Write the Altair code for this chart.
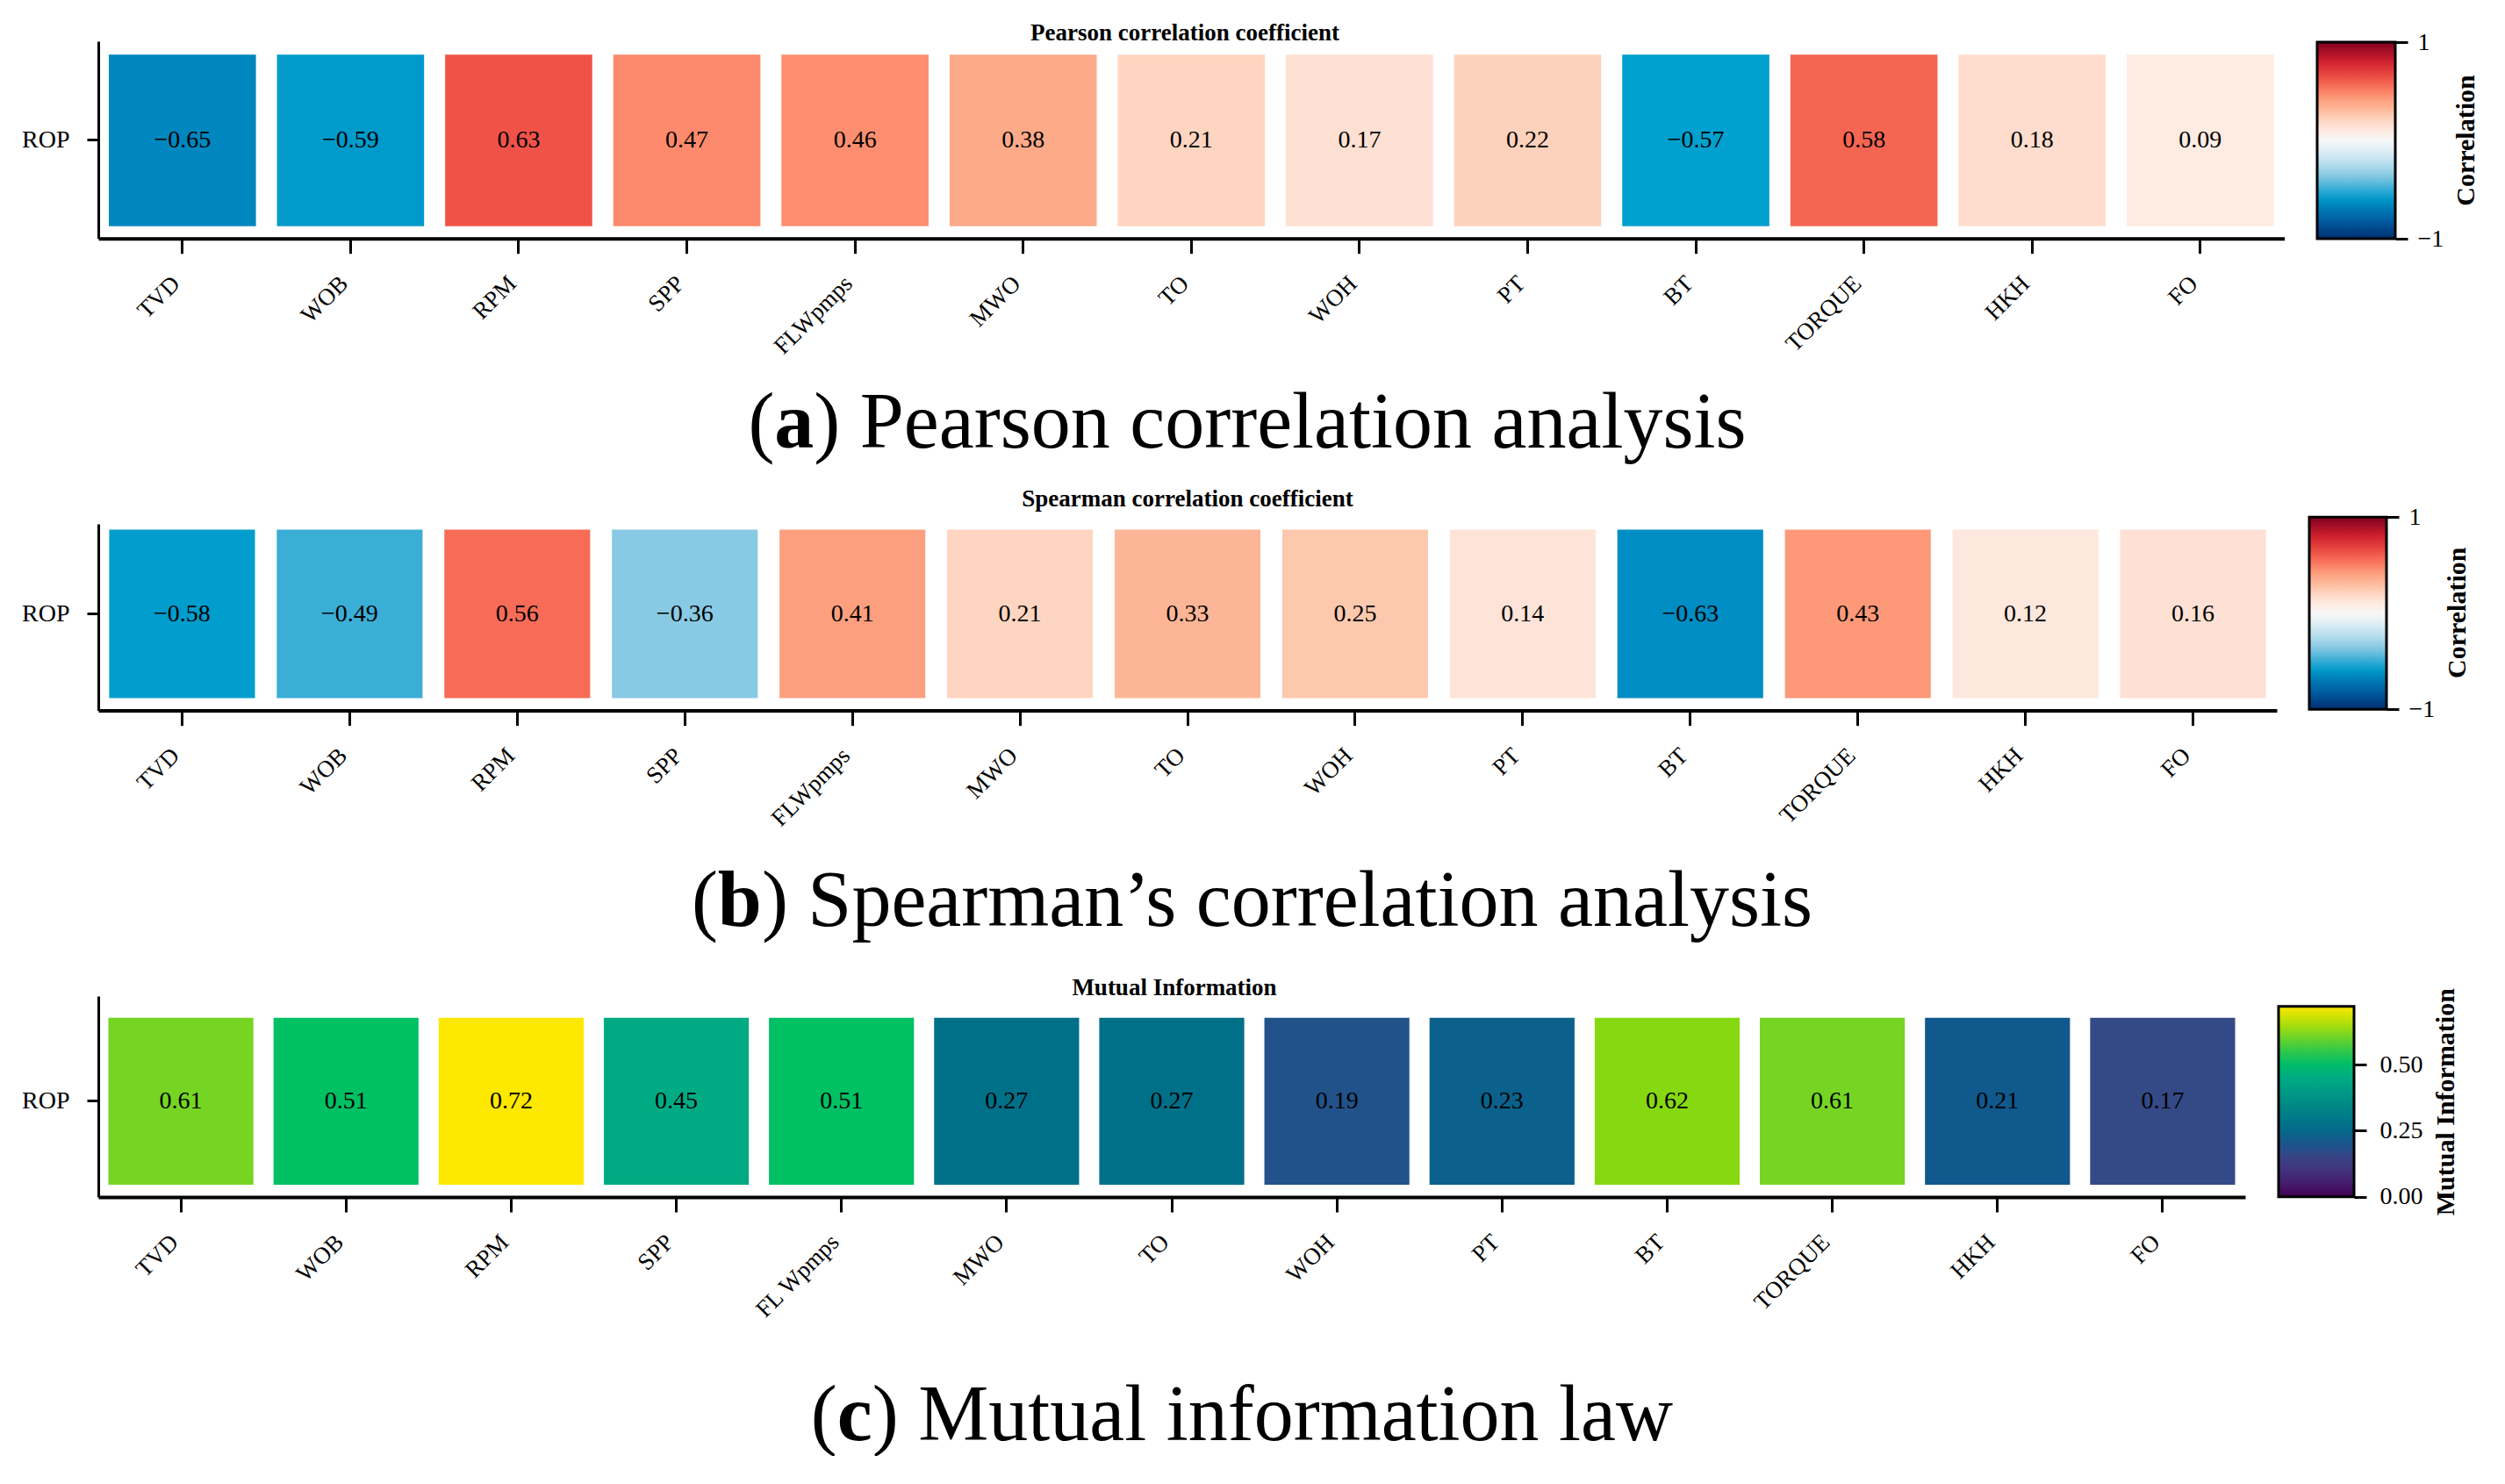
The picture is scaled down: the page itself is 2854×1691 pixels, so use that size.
import altair as alt
import pandas as pd

# ---------------- data ----------------
features = ["TVD", "WOB", "RPM", "SPP", "FLWpmps", "MWO", "TO", "WOH", "PT", "BT", "TORQUE", "HKH", "FO"]
target = "ROP"
pearson = [-0.65, -0.59, 0.63, 0.47, 0.46, 0.38, 0.21, 0.17, 0.22, -0.57, 0.58, 0.18, 0.09]
spearman = [-0.58, -0.49, 0.56, -0.36, 0.41, 0.21, 0.33, 0.25, 0.14, -0.63, 0.43, 0.12, 0.16]
mutual_info = [0.61, 0.51, 0.72, 0.45, 0.51, 0.27, 0.27, 0.19, 0.23, 0.62, 0.61, 0.21, 0.17]

panel_titles = ["Pearson correlation coefficient", "Spearman correlation coefficient", "Mutual Information"]
cbar_titles = ["Correlation", "Correlation", "Mutual Information"]
caption_letters = ["a", "b", "c"]
caption_texts = [") Pearson correlation analysis", ") Spearman\u2019s correlation analysis", ") Mutual information law"]
corr_domain = [-1, 1]
corr_ticks = [-1, 0, 1]
mi_domain = [0, 0.72]
mi_ticks = [0.0, 0.25, 0.5]

# ---------------- style ----------------
FONT = "Liberation Serif"
CORR_STOPS = [-1, -0.85, -0.65, -0.57, -0.49, -0.36, -0.15, 0, 0.09, 0.17, 0.25, 0.38, 0.47, 0.58, 0.63, 0.8, 1]
CORR_COLORS = ["#00306f", "#00549b", "#0087bf", "#00a0cf", "#3baed6", "#88cae3", "#d4ebf4", "#f7f7f7",
               "#feebe2", "#fee0d2", "#fdc9ae", "#fcaa88", "#fd8a6c", "#f46552", "#ef5348", "#d0202e", "#800020"]
MI_STOPS = [0, 0.08, 0.17, 0.21, 0.27, 0.45, 0.51, 0.61, 0.62, 0.72]
MI_COLORS = ["#440154", "#462c7b", "#344a87", "#10598d", "#007089", "#00ab84", "#00c064", "#76d523", "#86d910", "#fde800"]

# Times / Liberation Serif advance widths (per 1000 em) for caption layout
TIMES = {"(": 333, ")": 333, " ": 250, "\u2019": 333, "P": 556, "S": 556, "M": 889, "a": 444, "c": 444,
         "e": 444, "f": 333, "i": 278, "l": 278, "m": 778, "n": 500, "o": 500, "p": 500, "r": 333,
         "s": 389, "t": 278, "u": 500, "w": 722, "y": 500}
TIMES_BOLD = {"a": 500, "b": 556, "c": 444}

# ---------------- layout (page pixels) ----------------
PLOT_LEFT = 112
SPACING = 325
TOP_A = 47.0
BOTTOMS = [271.7, 809.3, 1363.3]
TOPS = [TOP_A, BOTTOMS[0] + SPACING, BOTTOMS[1] + SPACING]
layout_abs = [
    dict(right=2602.6, cells=(62.3, 257.7), pi=0.125, title=(1350, 46), leg=(2640, 48), glen=224, gth=89,
         lpad=11, ctitle=(2810, 160), cap=(1421, 510), xlabel_expr=None),
    dict(right=2594, cells=(603.3, 795.3), pi=0.13, title=(1353, 577), leg=(2631, 589), glen=219, gth=88,
         lpad=11, ctitle=(2800, 698), cap=(1429, 1055), xlabel_expr=None),
    dict(right=2558, cells=(1159, 1349.3), pi=0.122, title=(1338, 1133), leg=(2596, 1146), glen=217, gth=86,
         lpad=15, ctitle=(2787, 1255), cap=(1415, 1640),
         xlabel_expr="datum.label == 'FLWpmps' ? 'FL Wpmps' : datum.label"),
]


def rel_geom(i):
    a = layout_abs[i]
    top = TOPS[i]
    H = BOTTOMS[i] - top
    bw = a["cells"][1] - a["cells"][0]
    L = H - bw
    W = a["right"] - PLOT_LEFT
    legx = a["leg"][0] - PLOT_LEFT
    legy = a["leg"][1] - top
    return dict(
        W=W, H=H, pi=a["pi"], po=L / (2 * bw), align=(a["cells"][0] - top) / L,
        tx=a["title"][0] - PLOT_LEFT, ty=a["title"][1] - top,
        legx=legx, legy=legy, glen=a["glen"], gth=a["gth"], lpad=a["lpad"],
        cb_offset=legx + a["gth"] - W, cb_range=[legy + a["glen"], legy],
        ctx=a["ctitle"][0] - PLOT_LEFT, cty=a["ctitle"][1] - top,
        capx=a["cap"][0] - PLOT_LEFT, capy=a["cap"][1] - top, xlabel_expr=a["xlabel_expr"],
    )


ONE = pd.DataFrame({"k": [0]})


def caption_layers(letter, rest, cx, cy, F=90):
    w_open = TIMES["("] * F / 1000
    w_let = TIMES_BOLD[letter] * F / 1000
    w_rest = sum(TIMES[c] for c in rest) * F / 1000
    left = cx - (w_open + w_let + w_rest) / 2
    common = dict(font=FONT, fontSize=F, align="left", baseline="alphabetic", color="black")
    t1 = alt.Chart(ONE).mark_text(**common).encode(x=alt.value(left), y=alt.value(cy), text=alt.value("("))
    t2 = alt.Chart(ONE).mark_text(fontWeight="bold", **common).encode(
        x=alt.value(left + w_open), y=alt.value(cy), text=alt.value(letter))
    t3 = alt.Chart(ONE).mark_text(**common).encode(
        x=alt.value(left + w_open + w_let), y=alt.value(cy), text=alt.value(rest))
    return [t1, t2, t3]


def panel(values, title, cbar_title, letter, rest, scale, cdomain, ticks, fmt, g):
    df = pd.DataFrame({"feature": features, "target": [target] * len(features), "value": values})
    base = alt.Chart(df)
    xaxis_kw = dict(title=None, labelAngle=315, labelAlign="right", labelBaseline="middle",
                    labelFont=FONT, labelFontSize=27, labelColor="black", labelPadding=30,
                    labelOffset=-7, labelOverlap=False, labelLimit=400, tickSize=17, tickWidth=3,
                    tickColor="black", domainColor="black", domainWidth=4, grid=False)
    if g["xlabel_expr"]:
        xaxis_kw["labelExpr"] = g["xlabel_expr"]
    x = alt.X("feature:N", sort=features,
              scale=alt.Scale(paddingInner=g["pi"], paddingOuter=g["pi"] / 2),
              axis=alt.Axis(**xaxis_kw))
    y = alt.Y("target:N",
              scale=alt.Scale(paddingInner=0, paddingOuter=g["po"], align=g["align"]),
              axis=alt.Axis(title=None, labelAngle=0, labelFont=FONT, labelFontSize=28,
                            labelColor="black", labelPadding=20, tickSize=13, tickWidth=3,
                            tickColor="black", domainColor="black", domainWidth=3, grid=False))
    rect = base.mark_rect().encode(
        x=x, y=y,
        color=alt.Color("value:Q", scale=scale,
                        legend=alt.Legend(title=None, orient="none", legendX=g["legx"], legendY=g["legy"],
                                          direction="vertical", gradientLength=g["glen"],
                                          gradientThickness=g["gth"], values=ticks, labelOpacity=0,
                                          labelFontSize=1, gradientStrokeColor="black",
                                          gradientStrokeWidth=3)))
    text = base.mark_text(font=FONT, fontSize=28, color="black", baseline="middle").encode(
        x=x, y=y, text=alt.Text("value:Q", format=".2f"))
    ptitle = alt.Chart(ONE).mark_text(font=FONT, fontSize=27, fontWeight="bold", align="center",
                                      baseline="alphabetic", color="black").encode(
        x=alt.value(g["tx"]), y=alt.value(g["ty"]), text=alt.value(title))
    ctitle = alt.Chart(ONE).mark_text(font=FONT, fontSize=30, fontWeight="bold", angle=270,
                                      align="center", baseline="middle", color="black").encode(
        x=alt.value(g["ctx"]), y=alt.value(g["cty"]), text=alt.value(cbar_title))
    main = alt.layer(rect, text, ptitle, ctitle, *caption_layers(letter, rest, g["capx"], g["capy"]))
    # colour-bar axis (ticks + labels at the right edge of the gradient)
    cbar_axis = alt.Chart(pd.DataFrame({"v": ticks})).mark_point(opacity=0).encode(
        y=alt.Y("v:Q", scale=alt.Scale(domain=cdomain, range=g["cb_range"], nice=False, zero=False),
                axis=alt.Axis(orient="right", offset=g["cb_offset"], values=ticks, format=fmt, title=None,
                              domain=False, grid=False, tickSize=14, tickWidth=3, tickColor="black",
                              labelFont=FONT, labelFontSize=28, labelColor="black",
                              labelPadding=g["lpad"], labelBaseline="middle"))
    )
    return alt.layer(main, cbar_axis).resolve_scale(y="independent").properties(width=g["W"], height=g["H"])


corr_scale = alt.Scale(domain=CORR_STOPS, range=CORR_COLORS, interpolate="rgb")
mi_scale = alt.Scale(domain=MI_STOPS, range=MI_COLORS, interpolate="rgb")

pa = panel(pearson, panel_titles[0], cbar_titles[0], caption_letters[0], caption_texts[0],
           corr_scale, corr_domain, corr_ticks, "d", rel_geom(0))
pb = panel(spearman, panel_titles[1], cbar_titles[1], caption_letters[1], caption_texts[1],
           corr_scale, corr_domain, corr_ticks, "d", rel_geom(1))
pc = panel(mutual_info, panel_titles[2], cbar_titles[2], caption_letters[2], caption_texts[2],
           mi_scale, mi_domain, mi_ticks, ".2f", rel_geom(2))

# top bound of the whole chart is the top of panel (a)'s title text
title_top_a = layout_abs[0]["title"][1] - round(0.8 * 27)
chart = alt.vconcat(pa, pb, pc, spacing=SPACING, bounds="flush").resolve_scale(
    color="independent", x="independent", y="independent"
).configure_view(stroke=None).properties(
    padding={"left": 16, "top": title_top_a - 8, "right": 0, "bottom": 0}
)

chart.save("out.html", embed_options={"renderer": "svg", "actions": False})
